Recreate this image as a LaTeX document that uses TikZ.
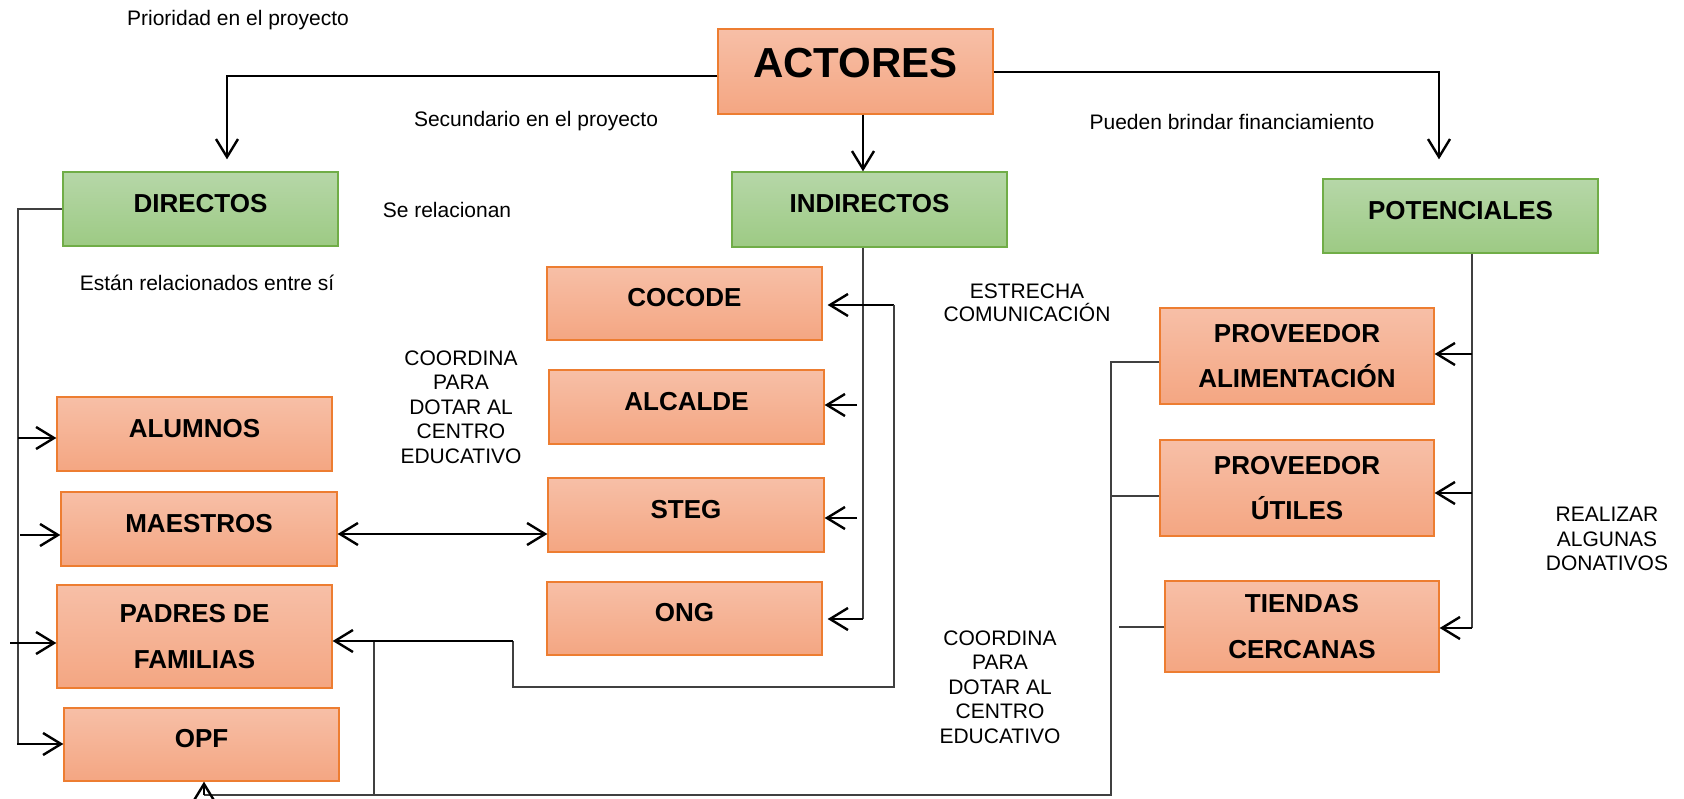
\documentclass[tikz,border=0pt]{standalone}
\usepackage{fontspec}
\setmainfont{Liberation Sans}
\usetikzlibrary{arrows.meta,calc}
\definecolor{obord}{HTML}{ED7D31}
\definecolor{otop}{HTML}{F7BFA7}
\definecolor{obot}{HTML}{F4A682}
\definecolor{gbord}{HTML}{70AD47}
\definecolor{gtop}{HTML}{B6D7A8}
\definecolor{gbot}{HTML}{9DCA84}
\definecolor{lgray}{HTML}{404040}
\begin{document}
\begin{tikzpicture}[x=1pt,y=-1pt,
 obox/.style={draw=obord, line width=1.3pt, top color=otop, bottom color=obot, minimum width=275pt, inner sep=0pt, font=\bfseries\fontsize{26}{45.5}\selectfont, align=center},
 gbox/.style={draw=gbord, line width=1.3pt, top color=gtop, bottom color=gbot, minimum width=275pt, inner sep=0pt, font=\bfseries\fontsize{26}{31}\selectfont},
 one/.style={text height=19pt, text depth=12.4pt},
 lbl/.style={font=\fontsize{21}{24.5}\selectfont, align=center, inner sep=0pt},
 conn/.style={draw=lgray, line width=1.5pt},
 arr/.style={draw=black, line width=2.4pt, -{Straight Barb[length=18pt,width=22pt]}},
 arrtwo/.style={draw=black, line width=2.4pt, {Straight Barb[length=18pt,width=22pt]}-{Straight Barb[length=18pt,width=22pt]}},
]
\useasboundingbox (0,0) rectangle (1684,799);

% boxes
\node[obox, minimum height=85pt, font=\bfseries\fontsize{42}{50}\selectfont, text height=31pt, text depth=18pt] (actores) at (855.5,71.5) {ACTORES};
\node[gbox,one,minimum height=74pt] (directos) at (200.5,209) {DIRECTOS};
\node[gbox,one,minimum height=75pt] (indirectos) at (869.5,209.5) {INDIRECTOS};
\node[gbox,one,minimum height=74pt] (potenciales) at (1460.5,216) {POTENCIALES};
\node[obox,one,minimum height=74pt] (alumnos) at (194.5,434) {ALUMNOS};
\node[obox,one,minimum height=74pt,minimum width=276pt] (maestros) at (199,529) {MAESTROS};
\node[obox,minimum height=103pt] (padres) at (194.5,636.5) {PADRES DE\\FAMILIAS};
\node[obox,one,minimum height=73pt] (opf) at (201.5,744.5) {OPF};
\node[obox,one,minimum height=73pt] (cocode) at (684.5,303.5) {COCODE};
\node[obox,one,minimum height=74pt] (alcalde) at (686.5,407) {ALCALDE};
\node[obox,one,minimum height=74pt,minimum width=276pt] (steg) at (686,515) {STEG};
\node[obox,one,minimum height=73pt] (ong) at (684.5,618.5) {ONG};
\node[obox,minimum height=96pt,minimum width=274pt] (provalim) at (1297,356) {PROVEEDOR\\ALIMENTACIÓN};
\node[obox,minimum height=96pt,minimum width=274pt] (provutil) at (1297,488) {PROVEEDOR\\ÚTILES};
\node[obox,minimum height=91pt,minimum width=274pt] (tiendas) at (1302,626.5) {TIENDAS\\CERCANAS};

% labels
\node[lbl] (l1) at (238,20) {Prioridad en el proyecto};
\node[lbl] (l2) at (536,121) {Secundario en el proyecto};
\node[lbl] (l3) at (1232,122) {Pueden brindar financiamiento};
\node[lbl] (l4) at (447,210) {Se relacionan};
\node[lbl] (l5) at (207,283) {Están relacionados entre sí};
\node[lbl] (l6) at (461,407) {COORDINA\\PARA\\DOTAR AL\\CENTRO\\EDUCATIVO};
\node[lbl, font=\fontsize{21}{23}\selectfont] (l7) at (1027,302.5) {ESTRECHA\\COMUNICACIÓN};
\node[lbl] (l8) at (1000,687) {COORDINA\\PARA\\DOTAR AL\\CENTRO\\EDUCATIVO};
\node[lbl] (l9) at (1607,539) {REALIZAR\\ALGUNAS\\DONATIVOS};

% top connectors
\draw[arr, shorten >=12pt] ([yshift=-4.5pt]actores.west) -| ([xshift=26.5pt]directos.north);
\draw[arr] ([xshift=7.5pt]actores.south) -- ([xshift=-6.5pt]indirectos.north);
\draw[arr, shorten >=19pt] ([yshift=-0.5pt]actores.east) -| ([xshift=-21.5pt]potenciales.north);

% directos branch
\coordinate (dtop) at (18,209);
\coordinate (dbot) at (18,744);
\draw[conn] (directos.west) -- (dtop) -- (dbot);
\coordinate (da) at (18,438);
\draw[arr] (da) -- (da -| alumnos.west);
\coordinate (dm) at (20,535);
\draw[arr] (dm) -- (dm -| maestros.west);
\coordinate (dp) at (10,643);
\draw[arr] (dp) -- (dp -| padres.west);
\coordinate (dopf) at (17,744);
\draw[arr] (dopf) -- (dopf -| opf.west);

% maestros - steg
\draw[arrtwo] ([yshift=-5pt]maestros.east) -- ([yshift=-5pt]maestros.east -| steg.west);

% indirectos branch
\coordinate (ib) at (863,619);
\draw[conn] ([xshift=-6.5pt]indirectos.south) -- (ib);
\draw[arr, shorten >=5pt] (ib) -- (ib -| ong.east);
\coordinate (ia) at (857,405);
\draw[arr] (ia) -- (ia -| alcalde.east);
\coordinate (is) at (857,518);
\draw[arr] (is) -- (is -| steg.east);

% cocode loop to padres
\coordinate (c1) at (894,305);
\coordinate (c2) at (894,687);
\coordinate (c3) at (513,687);
\coordinate (c4) at (513,641);
\draw[arr, shorten >=5pt] (c1) -- (c1 -| cocode.east);
\draw[conn] (c1) -- (c2) -- (c3) -- (c4);
\draw[arr] (c4) -- (c4 -| padres.east);

% bottom loop
\coordinate (b1) at (374,642);
\coordinate (b2) at (374,795);
\draw[conn] (b1) -- (b2);
\coordinate (r1) at (1111,362);
\coordinate (r2) at (1111,795);
\coordinate (ob) at ([xshift=2.5pt]opf.south);
\draw[conn] (provalim.west |- r1) -- (r1) -- (r2) -- (ob |- r2);
\draw[arr] (ob |- r2) -- (ob);
\coordinate (u1) at (1111,496);
\draw[conn] (u1) -- (u1 -| provutil.west);
\coordinate (t1) at (1119,627);
\draw[conn] (t1) -- (t1 -| tiendas.west);

% potenciales branch
\coordinate (p0) at ([xshift=11.5pt]potenciales.south);
\coordinate (p3) at (1472,628);
\draw[conn] (p0) -- (p3);
\coordinate (p1) at (1472,354);
\draw[arr] (p1) -- (p1 -| provalim.east);
\coordinate (p2) at (1472,493);
\draw[arr] (p2) -- (p2 -| provutil.east);
\draw[arr] (p3) -- (p3 -| tiendas.east);
\end{tikzpicture}
\end{document}
